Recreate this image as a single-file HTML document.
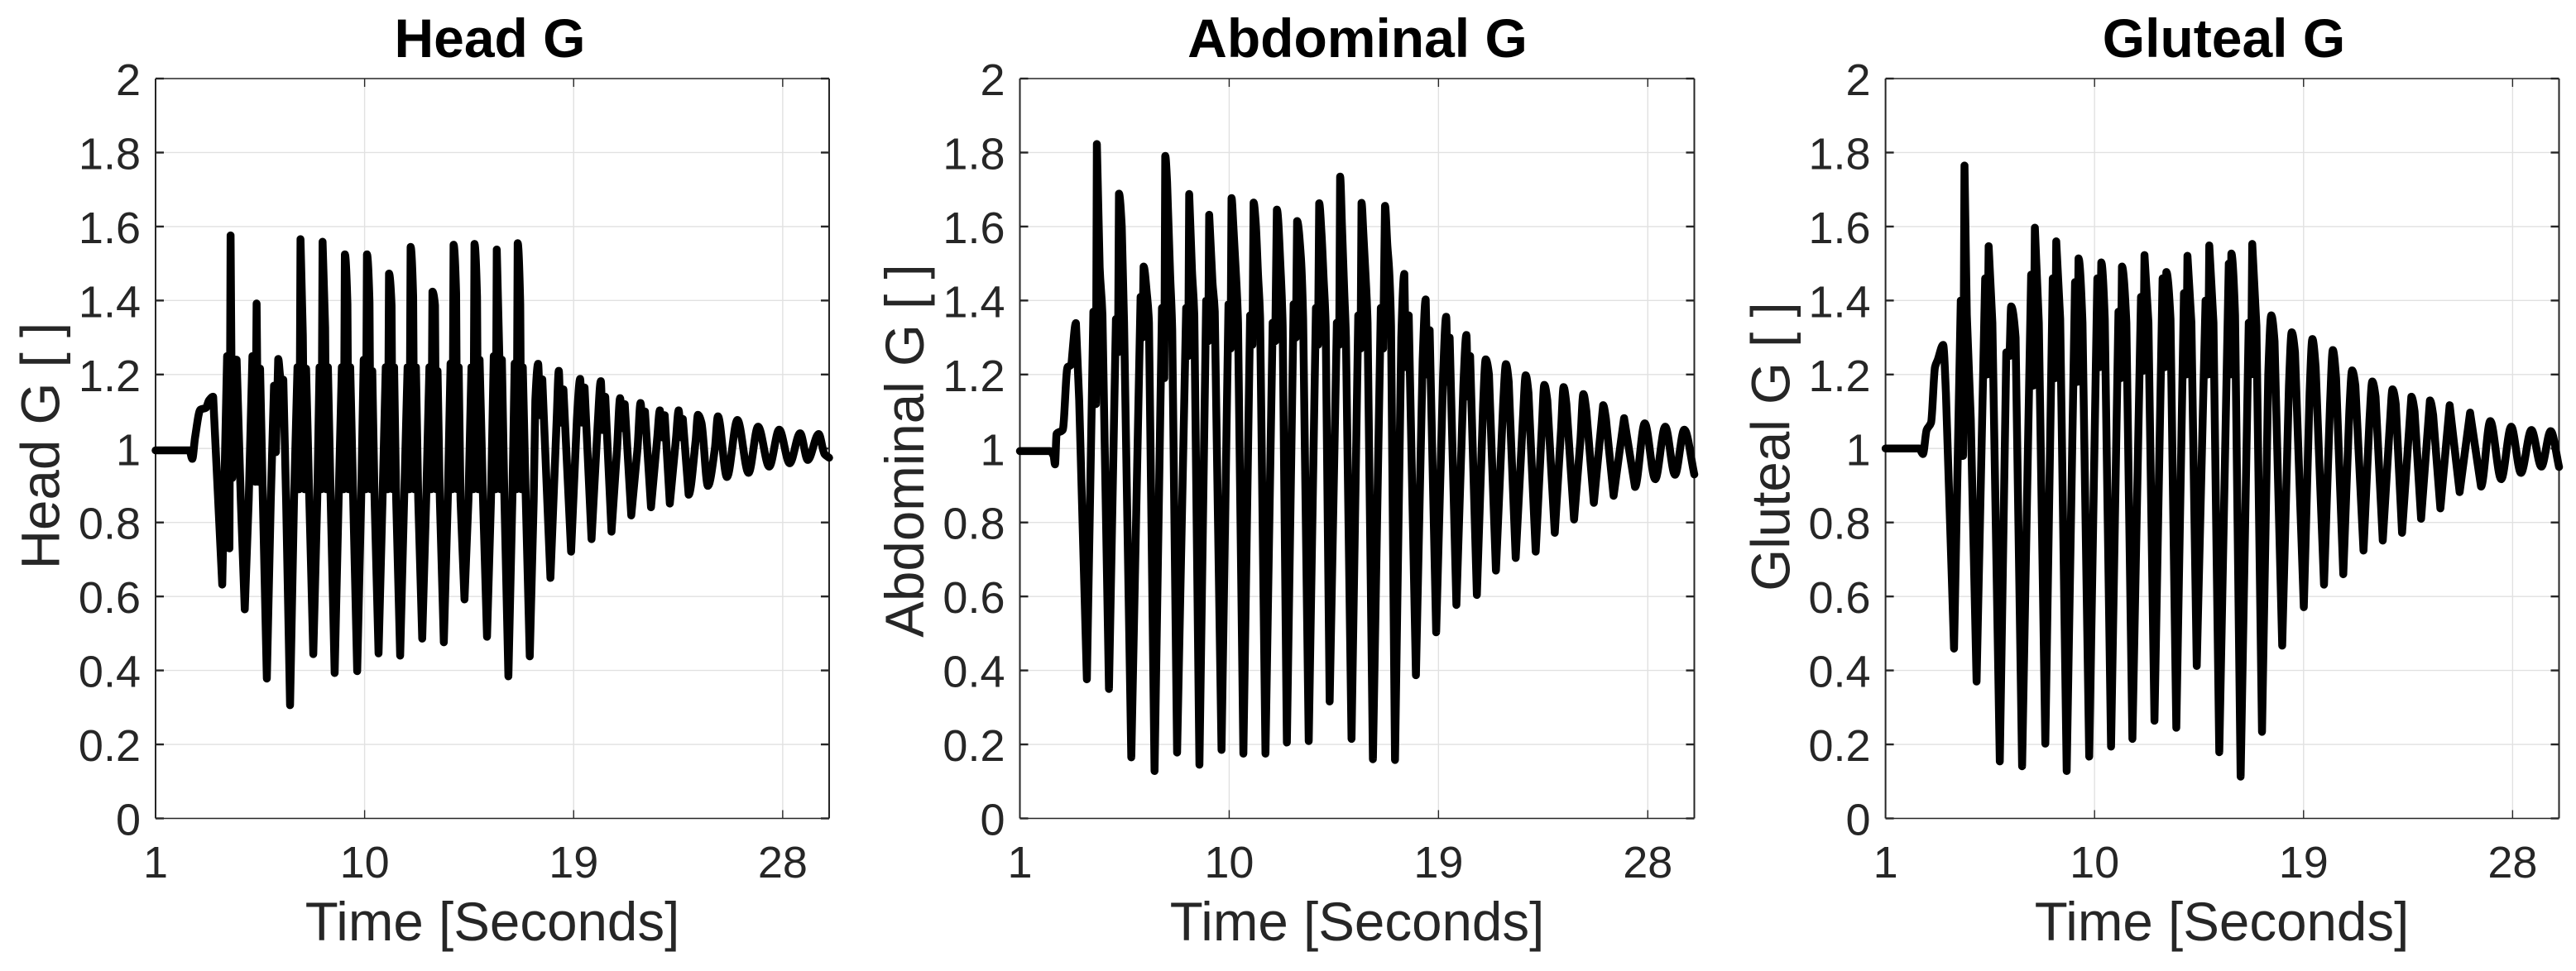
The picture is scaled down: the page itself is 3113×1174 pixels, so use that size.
<!DOCTYPE html>
<html lang="en">
<head>
<meta charset="utf-8">
<title>Head, Abdominal and Gluteal G</title>
<style>
html,body{margin:0;padding:0;background:#fff;}
body{width:3113px;height:1174px;overflow:hidden;}
svg{display:block;}
text{font-family:"Liberation Sans",Arial,sans-serif;}
</style>
</head>
<body>
<svg id="chart" xmlns="http://www.w3.org/2000/svg" width="3113" height="1174" viewBox="0 0 3113 1174"></svg>
<script>
// ---- Axis tick values ----
const yTickValues = [0, 0.2, 0.4, 0.6, 0.8, 1, 1.2, 1.4, 1.6, 1.8, 2];
const yTickLabels = ["0", "0.2", "0.4", "0.6", "0.8", "1", "1.2", "1.4", "1.6", "1.8", "2"];
const xTickValues = [1, 10, 19, 28];
const xTickLabels = ["1", "10", "19", "28"];
const xDomain = [1, 30];
const yDomain = [0, 2];

// ---- Head G readings ----
const headTime = [
  1,2.46,2.58,2.70,2.93,3.17,3.30,3.48,3.87,
  4.08,4.18,4.23,4.30,4.38,4.49,4.67,4.84,5.01,
  5.17,5.29,5.35,5.42,5.50,5.62,5.79,5.96,
  6.10,6.18,6.28,6.38,6.50,6.62,6.79,6.96,
  7.11,7.19,7.24,7.34,7.41,7.48,7.62,7.79,7.96,
  8.06,8.14,8.19,8.30,8.35,8.42,8.54,8.71,8.88,
  9.02,9.10,9.15,9.26,9.31,9.38,9.51,9.68,9.85,
  9.96,10.05,10.10,10.21,10.26,10.33,10.43,10.60,10.77,
  10.91,11.00,11.05,11.16,11.21,11.27,11.36,11.53,11.70,
  11.85,11.93,11.98,12.09,12.14,12.21,12.31,12.48,12.65,
  12.79,12.87,12.92,13.03,13.08,13.14,13.24,13.41,13.58,
  13.70,13.78,13.83,13.94,13.99,14.05,14.13,14.30,14.47,
  14.60,14.68,14.73,14.84,14.89,14.95,15.10,15.27,15.44,
  15.56,15.64,15.69,15.80,15.85,15.91,16.02,16.19,16.36,
  16.46,16.54,16.59,16.70,16.75,16.81,16.94,17.11,17.28,
  17.35,17.47,17.56,17.65,18.00,
  18.27,18.36,18.44,18.56,18.89,
  19.14,19.28,19.35,19.47,19.77,
  20.03,20.17,20.25,20.36,20.63,
  20.87,21.00,21.10,21.20,21.48,
  21.75,21.88,21.98,22.07,22.33,
  22.60,22.71,22.81,22.92,23.14,
  23.41,23.52,23.62,23.70,23.95,
  24.25,24.35,24.50,24.78,
  25.08,25.21,25.60,
  26.05,26.53,
  26.94,27.42,
  27.85,28.30,
  28.75,29.08,
  29.55,29.80,30
];
const headG = [
  0.995,0.995,0.972,1.03,1.105,1.11,1.13,1.14,0.632,
  1.25,0.73,1.576,0.92,1.24,1.24,0.86,0.565,0.86,
  1.25,0.91,1.392,0.91,1.216,0.86,0.378,0.86,
  1.17,0.99,1.242,1.19,1.186,0.86,0.306,0.86,
  1.22,0.89,1.566,1.305,0.89,1.216,0.86,0.444,0.86,
  1.22,0.89,1.559,1.327,0.89,1.22,0.86,0.393,0.86,
  1.22,0.89,1.525,1.39,0.89,1.22,0.86,0.398,0.86,
  1.24,0.89,1.525,1.395,0.89,1.21,0.86,0.446,0.86,
  1.22,0.89,1.473,1.387,0.89,1.22,0.86,0.44,0.86,
  1.22,0.89,1.545,1.41,0.89,1.22,0.86,0.486,0.86,
  1.22,0.89,1.424,1.387,0.89,1.21,0.86,0.476,0.86,
  1.23,0.89,1.551,1.42,0.89,1.22,0.86,0.592,0.86,
  1.22,0.89,1.553,1.41,0.89,1.24,0.86,0.491,0.86,
  1.25,0.89,1.538,1.25,0.89,1.24,0.86,0.384,0.86,
  1.23,0.89,1.555,1.39,0.89,1.22,0.86,0.438,0.86,
  1.13,1.229,1.09,1.187,0.65,
  1.08,1.21,1.07,1.16,0.721,
  1.08,1.188,1.07,1.165,0.755,
  1.06,1.182,1.05,1.14,0.775,
  1.0,1.136,1.055,1.12,0.819,
  1.0,1.123,1.05,1.10,0.841,
  1.03,1.103,1.03,1.09,0.851,
  1.03,1.103,1.03,1.08,0.875,
  1.02,1.091,1.07,0.899,
  1.0,1.087,0.923,
  1.077,0.934,
  1.059,0.951,
  1.051,0.96,
  1.041,0.969,
  1.039,0.985,0.975
];

// ---- Abdominal G readings ----
const abdominalTime = [
  1,2.30,2.45,2.51,2.58,2.84,3.05,3.18,3.41,3.55,3.88,
  4.16,4.27,4.31,4.43,4.55,4.83,
  5.13,5.22,5.26,5.38,5.48,5.79,
  6.19,6.27,6.32,6.46,6.55,6.79,
  7.11,7.21,7.25,7.33,7.46,7.55,7.76,
  8.15,8.24,8.28,8.40,8.50,8.72,
  9.01,9.10,9.14,9.28,9.38,9.67,
  9.97,10.06,10.10,10.18,10.30,10.38,10.61,
  10.90,11.00,11.05,11.14,11.24,11.33,11.56,
  11.87,11.98,12.05,12.22,12.30,12.48,
  12.77,12.87,12.92,13.08,13.18,13.42,
  13.73,13.82,13.87,13.97,14.06,14.15,14.32,
  14.63,14.73,14.77,14.85,14.95,15.02,15.26,
  15.55,15.65,15.69,15.77,15.87,15.95,16.18,
  16.52,16.62,16.70,16.80,16.88,16.96,17.13,
  17.40,17.53,17.60,17.72,18.03,
  18.32,18.45,18.52,18.62,18.90,
  19.20,19.33,19.40,19.48,19.77,
  20.07,20.20,20.27,20.36,20.65,
  20.92,21.03,21.17,21.47,
  21.78,21.90,22.02,22.32,
  22.63,22.75,22.87,23.18,
  23.44,23.55,23.68,24.00,
  24.27,24.38,24.50,24.83,
  25.10,25.23,25.36,25.68,
  26.08,26.20,26.53,
  26.98,27.45,
  27.87,28.32,
  28.75,29.17,
  29.57,30
];
const abdominalG = [
  0.993,0.993,0.98,0.957,1.04,1.05,1.22,1.225,1.339,1.13,0.376,
  1.37,1.12,1.823,1.49,1.36,0.35,
  1.35,1.26,1.689,1.60,1.34,0.165,
  1.41,1.30,1.492,1.418,1.34,0.128,
  1.38,1.19,1.791,1.72,1.47,1.32,0.178,
  1.38,1.25,1.688,1.48,1.36,0.145,
  1.40,1.29,1.632,1.45,1.37,0.185,
  1.39,1.27,1.677,1.60,1.46,1.34,0.175,
  1.36,1.28,1.665,1.61,1.47,1.35,0.175,
  1.34,1.29,1.646,1.47,1.33,0.205,
  1.39,1.30,1.615,1.52,1.35,0.209,
  1.38,1.28,1.663,1.58,1.46,1.33,0.316,
  1.34,1.28,1.735,1.60,1.42,1.30,0.215,
  1.36,1.27,1.664,1.58,1.46,1.34,0.16,
  1.38,1.27,1.656,1.55,1.48,1.33,0.158,
  1.30,1.472,1.22,1.36,0.387,
  1.24,1.403,1.20,1.32,0.503,
  1.20,1.356,1.18,1.30,0.577,
  1.17,1.307,1.14,1.25,0.604,
  1.12,1.241,1.20,0.67,
  1.12,1.228,1.18,0.704,
  1.08,1.198,1.15,0.721,
  1.05,1.172,1.13,0.772,
  1.05,1.166,1.12,0.808,
  1.02,1.147,1.10,0.853,
  1.117,1.08,0.872,
  1.082,0.896,
  1.068,0.917,
  1.059,0.929,
  1.051,0.93
];

// ---- Gluteal G readings ----
const glutealTime = [
  1,2.47,2.55,2.61,2.77,2.96,3.13,3.25,3.48,3.60,3.95,
  4.24,4.34,4.40,4.50,4.67,4.92,
  5.29,5.38,5.44,5.60,5.92,
  6.20,6.33,6.41,6.60,6.88,
  7.27,7.37,7.43,7.60,7.88,
  8.20,8.30,8.35,8.52,8.80,
  9.16,9.26,9.31,9.48,9.77,
  10.12,10.22,10.29,10.44,10.71,
  11.03,11.13,11.18,11.37,11.63,
  12.00,12.10,12.15,12.32,12.58,
  12.93,13.03,13.09,13.27,13.52,
  13.85,13.95,14.00,14.17,14.40,
  14.78,14.89,14.94,15.12,15.37,
  15.78,15.84,15.89,16.05,16.29,
  16.64,16.74,16.79,16.97,17.21,
  17.48,17.61,17.75,18.08,
  18.37,18.49,18.63,19.01,
  19.26,19.38,19.52,19.88,
  20.14,20.26,20.40,20.71,
  20.97,21.09,21.23,21.58,
  21.84,21.96,22.10,22.41,
  22.72,22.83,22.97,23.24,
  23.64,23.78,24.06,
  24.44,24.58,24.89,
  25.29,25.72,
  26.17,26.64,
  27.04,27.51,
  27.94,28.36,
  28.81,29.24,
  29.64,30
];
const glutealG = [
  1.0,1.0,0.99,0.985,1.05,1.07,1.22,1.24,1.28,1.15,0.459,
  1.40,0.98,1.765,1.36,1.08,0.37,
  1.46,1.20,1.547,1.34,0.154,
  1.26,1.25,1.384,1.30,0.141,
  1.47,1.17,1.597,1.34,0.202,
  1.46,1.19,1.56,1.35,0.128,
  1.45,1.18,1.514,1.34,0.167,
  1.46,1.22,1.503,1.35,0.194,
  1.37,1.19,1.492,1.34,0.215,
  1.41,1.21,1.523,1.34,0.264,
  1.46,1.22,1.477,1.35,0.245,
  1.42,1.20,1.521,1.34,0.412,
  1.40,1.20,1.549,1.34,0.179,
  1.50,1.20,1.527,1.36,0.113,
  1.34,1.20,1.553,1.33,0.234,
  1.20,1.36,1.29,0.467,
  1.17,1.314,1.26,0.571,
  1.15,1.296,1.22,0.632,
  1.12,1.266,1.19,0.66,
  1.10,1.211,1.17,0.724,
  1.08,1.181,1.14,0.751,
  1.07,1.16,1.12,0.772,
  1.14,1.10,0.81,
  1.13,1.09,0.838,
  1.117,0.882,
  1.097,0.897,
  1.074,0.917,
  1.059,0.934,
  1.05,0.951,
  1.047,0.95
];

// ---- Drawing ----
const SVG_NS = "http://www.w3.org/2000/svg";
const chartRoot = document.getElementById("chart");
const AXIS_COLOR = "#262626";
const GRID_COLOR = "#e1e1e1";
const SHARP_SEGMENT_PX = 80;

function makeScale(domain, range) {
  return function (v) {
    return range[0] + (v - domain[0]) * (range[1] - range[0]) / (domain[1] - domain[0]);
  };
}

function svgEl(tag, parent) {
  const el = document.createElementNS(SVG_NS, tag);
  parent.appendChild(el);
  return el;
}

function drawLine(parent, x1, y1, x2, y2, color, width) {
  const el = svgEl("line", parent);
  el.setAttribute("x1", x1);
  el.setAttribute("y1", y1);
  el.setAttribute("x2", x2);
  el.setAttribute("y2", y2);
  el.setAttribute("stroke", color);
  el.setAttribute("stroke-width", width);
  return el;
}

function drawText(parent, str, x, y, size, anchor, color, bold) {
  const el = svgEl("text", parent);
  el.setAttribute("x", x);
  el.setAttribute("y", y);
  el.setAttribute("font-size", size);
  el.setAttribute("text-anchor", anchor);
  el.setAttribute("fill", color);
  if (bold) el.setAttribute("font-weight", "bold");
  el.textContent = str;
  return el;
}

// Large swings stay straight (cusped spikes); small swings are smoothed
function tracePath(px, py) {
  const n = Math.min(px.length, py.length);
  const slopes = [];
  for (let i = 0; i < n - 1; i++) slopes.push((py[i + 1] - py[i]) / (px[i + 1] - px[i]));
  const tangents = [slopes[0]];
  for (let i = 1; i < n - 1; i++) {
    const a = slopes[i - 1], b = slopes[i];
    tangents.push(a * b <= 0 ? 0 : 2 * a * b / (a + b));
  }
  tangents.push(slopes[n - 2]);
  let d = "M" + px[0].toFixed(2) + " " + py[0].toFixed(2);
  for (let i = 0; i < n - 1; i++) {
    if (Math.abs(py[i + 1] - py[i]) > SHARP_SEGMENT_PX) {
      d += "L" + px[i + 1].toFixed(2) + " " + py[i + 1].toFixed(2);
      continue;
    }
    const h = (px[i + 1] - px[i]) / 3;
    d += "C" + (px[i] + h).toFixed(2) + " " + (py[i] + tangents[i] * h).toFixed(2) + " " +
      (px[i + 1] - h).toFixed(2) + " " + (py[i + 1] - tangents[i + 1] * h).toFixed(2) + " " +
      px[i + 1].toFixed(2) + " " + py[i + 1].toFixed(2);
  }
  return d;
}

function drawPanel(cfg) {
  const x = makeScale(xDomain, [cfg.left, cfg.right]);
  const y = makeScale(yDomain, [cfg.bottom, cfg.top]);

  const panel = svgEl("g", chartRoot);
  
  

  const grid = svgEl("g", panel);
  
  
  xTickValues.forEach(function (v) {
    if (v !== xDomain[0]) drawLine(grid, x(v), cfg.top, x(v), cfg.bottom, GRID_COLOR, 1.4);
  });
  yTickValues.forEach(function (v) {
    if (v !== yDomain[0] && v !== yDomain[1]) drawLine(grid, cfg.left, y(v), cfg.right, y(v), GRID_COLOR, 1.4);
  });

  const frame = svgEl("g", panel);
  
  
  drawLine(frame, cfg.left, cfg.top, cfg.right, cfg.top, AXIS_COLOR, 1.6);
  drawLine(frame, cfg.left, cfg.bottom, cfg.right, cfg.bottom, AXIS_COLOR, 1.6);
  drawLine(frame, cfg.left, cfg.top, cfg.left, cfg.bottom, AXIS_COLOR, 2);
  drawLine(frame, cfg.right, cfg.top, cfg.right, cfg.bottom, AXIS_COLOR, 2);

  const xAxis = svgEl("g", panel);
  
  
  xTickValues.forEach(function (v, i) {
    drawLine(xAxis, x(v), cfg.bottom, x(v), cfg.bottom - 10, AXIS_COLOR, 1.4);
    drawLine(xAxis, x(v), cfg.top, x(v), cfg.top + 10, AXIS_COLOR, 1.4);
    const label = drawText(xAxis, xTickLabels[i], x(v), 1061, 54, "middle", AXIS_COLOR, false);
    
    
  });

  const yAxis = svgEl("g", panel);
  
  
  yTickValues.forEach(function (v, i) {
    drawLine(yAxis, cfg.left, y(v), cfg.left + 10, y(v), AXIS_COLOR, 2.4);
    drawLine(yAxis, cfg.right, y(v), cfg.right - 10, y(v), AXIS_COLOR, 2.4);
    const label = drawText(yAxis, yTickLabels[i], cfg.left - 18, y(v) + 20, 54, "end", AXIS_COLOR, false);
    
    
  });

  const series = svgEl("path", panel);
  
  
  series.setAttribute("d", tracePath(cfg.time.map(x), cfg.values.map(y)));
  series.setAttribute("fill", "none");
  series.setAttribute("stroke", "#000");
  series.setAttribute("stroke-width", "9.5");
  series.setAttribute("stroke-linejoin", "round");
  series.setAttribute("stroke-linecap", "round");

  const title = drawText(panel, cfg.title, cfg.titleX, 69, 66, "middle", "#000", true);
  
  

  const xTitle = drawText(panel, "Time [Seconds]", cfg.xLabelX, 1137, 65.5, "middle", AXIS_COLOR, false);
  
  

  const yTitle = drawText(panel, cfg.yLabel, 0, 0, 65.5, "middle", AXIS_COLOR, false);
  yTitle.setAttribute("transform", "translate(" + cfg.yLabelX + " " + cfg.yLabelY + ") rotate(-90)");
  
  
}

drawPanel({ key: "head", title: "Head G", yLabel: "Head G [ ]", time: headTime, values: headG,
  left: 188, right: 1002, top: 95, bottom: 989.5,
  titleX: 592, xLabelX: 595, yLabelX: 71.5, yLabelY: 539 });
drawPanel({ key: "abdominal", title: "Abdominal G", yLabel: "Abdominal G [ ]", time: abdominalTime, values: abdominalG,
  left: 1232.5, right: 2047.5, top: 95, bottom: 989.5,
  titleX: 1640.5, xLabelX: 1640, yLabelX: 1116, yLabelY: 545 });
drawPanel({ key: "gluteal", title: "Gluteal G", yLabel: "Gluteal G [ ]", time: glutealTime, values: glutealG,
  left: 2278.6, right: 3092.5, top: 95, bottom: 989.5,
  titleX: 2687.5, xLabelX: 2685, yLabelX: 2162.5, yLabelY: 540 });
</script>
</body>
</html>
